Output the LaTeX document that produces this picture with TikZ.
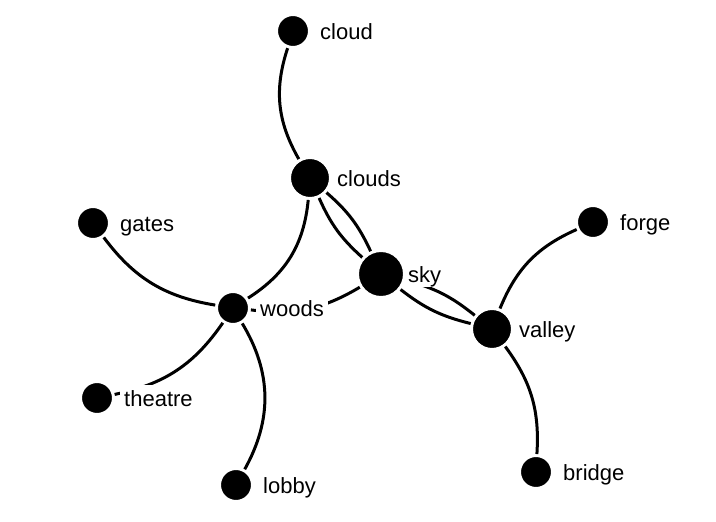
\documentclass[tikz,border=0pt]{standalone}
\usepackage{fontspec}
\setmainfont{Liberation Sans}
\begin{document}
\begin{tikzpicture}[x=1pt,y=1pt]
\tikzset{
 vtx/.style={circle, fill=black, draw=white, line width=3pt, inner sep=0pt},
 sm/.style={vtx, minimum size=33pt},
 md/.style={vtx, minimum size=41pt},
 lg/.style={vtx, minimum size=47pt},
 lab/.style={anchor=west, fill=white, inner ysep=0pt, inner xsep=4pt, text height=21pt, text depth=4.4pt, font=\fontsize{22}{26}\selectfont},
 edgeln/.style={line width=3pt, draw=black},
}
\useasboundingbox (0,0) rectangle (716,-522);
\node[sm] (cloud) at (293,-31) {};
\node[md] (clouds) at (310,-178) {};
\node[sm] (gates) at (93,-223) {};
\node[sm] (forge) at (593,-222) {};
\node[lg] (sky) at (381,-274) {};
\node[sm] (woods) at (233,-308) {};
\node[md] (valley) at (492,-329) {};
\node[sm] (theatre) at (97,-398) {};
\node[sm] (lobby) at (236,-485) {};
\node[sm] (bridge) at (536,-472) {};
\draw[edgeln] (cloud) to[bend right=24] (clouds);
\draw[edgeln] (clouds) to[bend left=26] (woods);
\draw[edgeln] (clouds) to[bend left=12] (sky);
\draw[edgeln] (clouds) to[bend right=12] (sky);
\draw[edgeln] (gates) to[bend right=22] (woods);
\draw[edgeln] (woods) to[bend right=19] (sky);
\draw[edgeln] (woods) to[bend left=22] (theatre);
\draw[edgeln] (woods) to[bend left=30] (lobby);
\draw[edgeln] (sky) to[bend left=12] (valley);
\draw[edgeln] (sky) to[bend right=12] (valley);
\draw[edgeln] (forge) to[bend right=22] (valley);
\draw[edgeln] (valley) to[bend left=20] (bridge);
\node[lab] (lcloud) at ([xshift=23pt]cloud.center) {cloud};
\node[lab] (lclouds) at ([xshift=23pt]clouds.center) {clouds};
\node[lab] (lgates) at ([xshift=23pt]gates.center) {gates};
\node[lab] (lforge) at ([xshift=23pt]forge.center) {forge};
\node[lab] (lsky) at ([xshift=23pt]sky.center) {sky};
\node[lab] (lwoods) at ([xshift=23pt]woods.center) {woods};
\node[lab] (lvalley) at ([xshift=23pt]valley.center) {valley};
\node[lab] (ltheatre) at ([xshift=23pt]theatre.center) {theatre};
\node[lab] (llobby) at ([xshift=23pt]lobby.center) {lobby};
\node[lab] (lbridge) at ([xshift=23pt]bridge.center) {bridge};
\end{tikzpicture}
\end{document}
